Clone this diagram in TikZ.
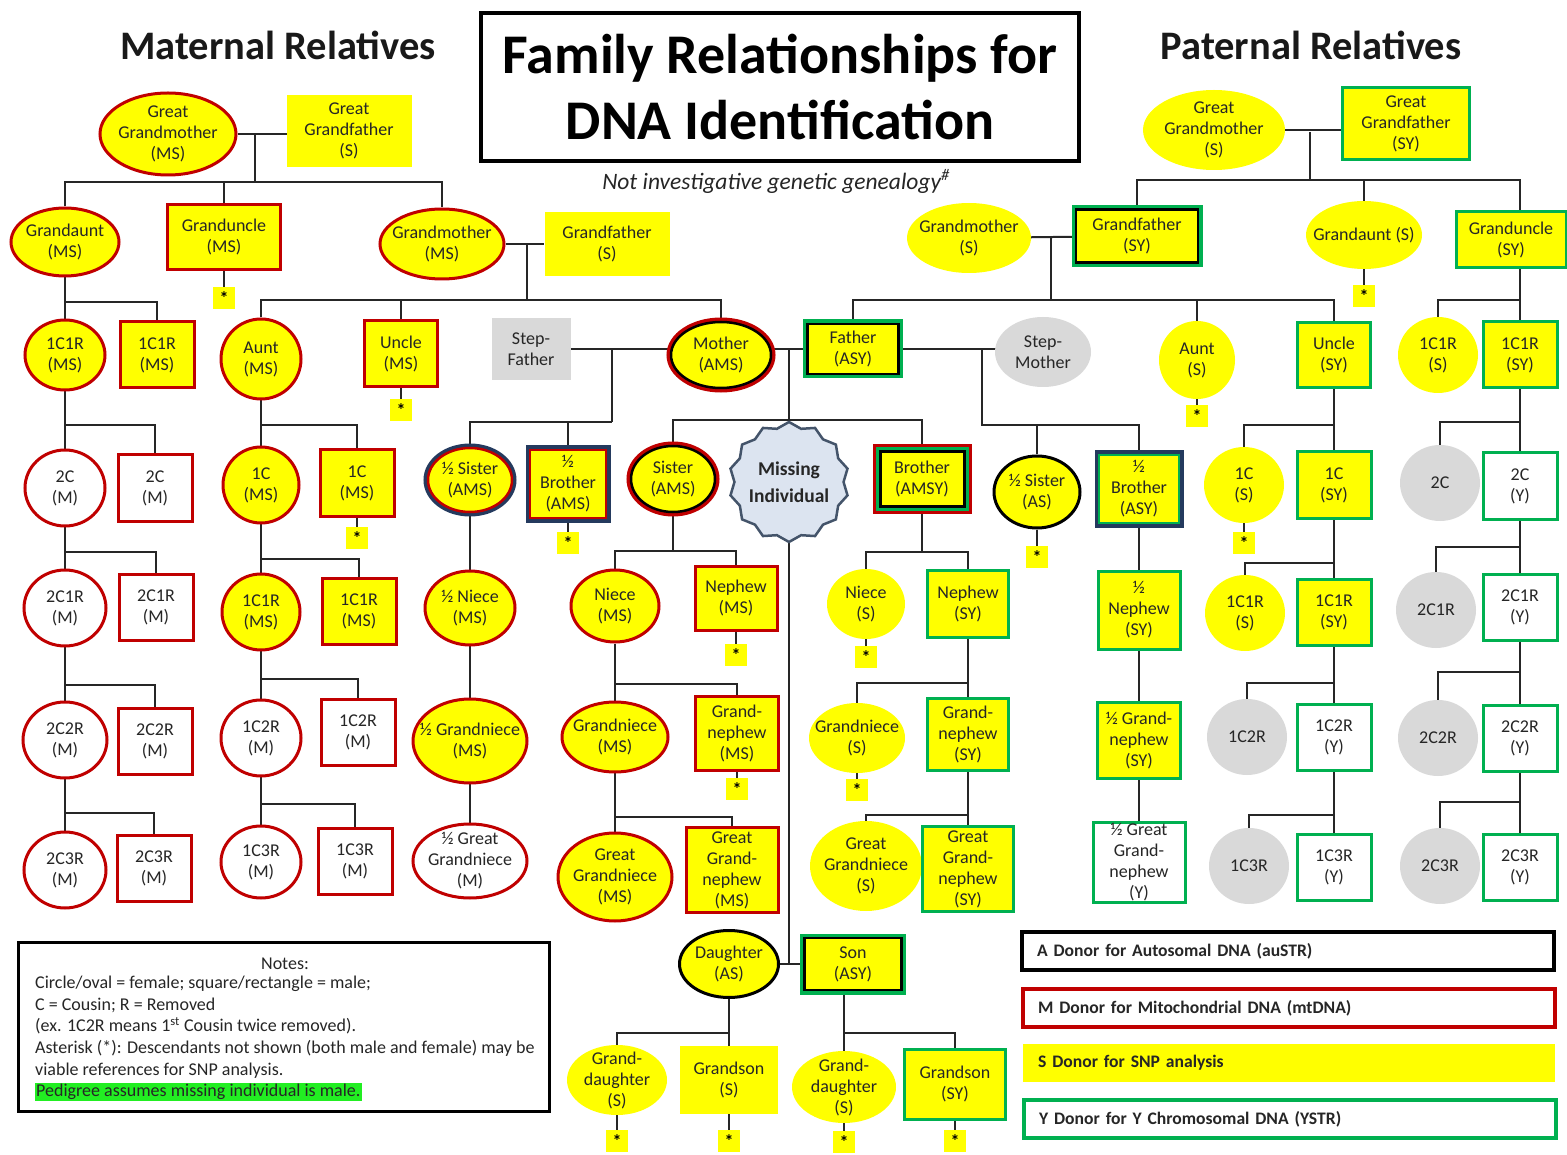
\documentclass[tikz,border=0pt]{standalone}
\usepackage{fontspec}
\setmainfont{Carlito}
\usetikzlibrary{shapes.geometric,backgrounds}

\definecolor{myel}{HTML}{FFFF00}
\definecolor{mred}{HTML}{C00000}
\definecolor{mgreen}{HTML}{00B050}
\definecolor{mgray}{HTML}{D9D9D9}
\definecolor{mnavy}{HTML}{243A5E}
\definecolor{mslate}{HTML}{44546A}
\definecolor{mblue}{HTML}{DCE4F0}
\definecolor{hlgreen}{HTML}{22EE22}

\newcommand\lab{\fontsize{18}{21}\selectfont}

\begin{document}
\begin{tikzpicture}[
  x=1pt, y=-1pt,
  fem/.style={ellipse, inner sep=-20pt, minimum width=80pt, minimum height=76pt,
              align=center, font=\lab, text=black!85},
  mal/.style={rectangle, inner sep=-10pt, minimum width=74pt, minimum height=66pt,
              align=center, font=\lab, text=black!85},
  sz/.style 2 args={minimum width=#1pt, minimum height=#2pt},
  dMS/.style={fill=myel, draw=mred, line width=3pt},
  dM/.style={fill=white, draw=mred, line width=3pt},
  dS/.style={fill=myel},
  dSY/.style={fill=myel, draw=mgreen, line width=3pt},
  dY/.style={fill=white, draw=mgreen, line width=3pt},
  dnone/.style={fill=mgray},
  dAS/.style={fill=myel, draw=black, line width=3pt},
  dAMS/.style={fill=myel, preaction={draw=mred, line width=9pt}, draw=black, line width=2.5pt},
  dhAMS/.style={fill=myel, preaction={draw=mnavy, line width=9pt}, draw=mred, line width=2.5pt},
  dASY/.style={fill=myel, preaction={draw=mgreen, line width=9pt}, draw=black, line width=2.5pt},
  dhASY/.style={fill=myel, preaction={draw=mnavy, line width=9pt}, draw=mgreen, line width=2.5pt},
  dAMSY/.style={fill=myel, preaction={draw=mred, line width=15pt},
                preaction={draw=mgreen, line width=9pt}, draw=black, line width=3pt},
  ast/.style={fill=myel, minimum size=22pt, inner sep=0pt, font=\lab\bfseries},
  link/.style={draw=black!85, line width=2pt},
  head/.style={font=\fontsize{40.5}{48}\selectfont\bfseries, text=black!90},
  titlebox/.style={draw, line width=4pt, minimum width=598pt, minimum height=148pt,
                   align=center, font=\fontsize{56}{66}\selectfont\bfseries},
  legbox/.style={minimum width=532pt, minimum height=38pt, line width=3.5pt, text width=502pt,
                 align=left, inner sep=0pt, font=\fontsize{17.6}{20}\selectfont\bfseries, text=black!85},
  notefont/.style={font=\fontsize{18}{21.6}\selectfont, text=black!85},
]
\useasboundingbox (0,0) rectangle (1567,1155);

% ---------- headings ----------
\node[head] (mathead) at (278,45) {Maternal Relatives};
\node[titlebox] (title) at (780,87) {Family Relationships for\\DNA Identification};
\node[font=\fontsize{23.5}{26}\selectfont\itshape, text=black!85] (subtitle) at (776,181)
  {Not investigative genetic genealogy\textsuperscript{\#}};
\node[head] (pathead) at (1311,45) {Paternal Relatives};

% ---------- maternal grandparents ----------
\node[fem, dMS, sz={136}{82}] (mggm) at (168,134) {Great\\Grandmother\\(MS)};
\node[mal, dS, sz={125}{72}] (mggf) at (349,131) {Great\\Grandfather\\(S)};
\node[fem, dMS, sz={108}{68}] (mgaunt) at (65,242) {Grandaunt\\(MS)};
\node[mal, dMS, sz={113}{65}] (mguncle) at (224,237) {Granduncle\\(MS)};
\node[ast] (mguncleX) at (224,298) {\raisebox{-5pt}{*}};
\node[fem, dMS, sz={124}{70}] (mgm) at (442,244) {Grandmother\\(MS)};
\node[mal, dS, sz={125}{64}] (mgf) at (607,244) {Grandfather\\(S)};

% ---------- grandaunt line ----------
\node[fem, dMS, sz={80}{70}] (mgaF1) at (65,355) {1C1R\\(MS)};
\node[mal, dMS] (mgaM1) at (157,355) {1C1R\\(MS)};
\node[fem, dM] (mgaF2) at (65,488) {2C\\(M)};
\node[mal, dM] (mgaM2) at (155,488) {2C\\(M)};
\node[fem, dM, sz={82}{76}] (mgaF3) at (65,608) {2C1R\\(M)};
\node[mal, dM] (mgaM3) at (156,607) {2C1R\\(M)};
\node[fem, dM, sz={84}{76}] (mgaF4) at (65,740) {2C2R\\(M)};
\node[mal, dM] (mgaM4) at (155,741) {2C2R\\(M)};
\node[fem, dM, sz={82}{76}] (mgaF5) at (65,870) {2C3R\\(M)};
\node[mal, dM] (mgaM5) at (154,868) {2C3R\\(M)};

% ---------- aunt / uncle line ----------
\node[fem, dMS, sz={80}{80}] (maunt) at (261,359) {Aunt\\(MS)};
\node[mal, dMS, sz={73}{66}] (muncle) at (401,354) {Uncle\\(MS)};
\node[ast] (muncleX) at (401,410) {\raisebox{-5pt}{*}};
\node[fem, dMS, sz={76}{76}] (mauF1) at (261,485) {1C\\(MS)};
\node[mal, dMS] (mauM1) at (357,483) {1C\\(MS)};
\node[ast] (mauM1X) at (357,538) {\raisebox{-5pt}{*}};
\node[fem, dMS, sz={78}{76}] (mauF2) at (261,612) {1C1R\\(MS)};
\node[mal, dMS] (mauM2) at (359,611) {1C1R\\(MS)};
\node[fem, dM] (mauF3) at (261,738) {1C2R\\(M)};
\node[mal, dM] (mauM3) at (358,732) {1C2R\\(M)};
\node[fem, dM, sz={80}{72}] (mauF4) at (261,862) {1C3R\\(M)};
\node[mal, dM] (mauM4) at (355,861) {1C3R\\(M)};

% ---------- parents ----------
\node[mal, dnone, sz={79}{62}] (stepf) at (531,349) {Step-\\Father};
\node[fem, dAMS, sz={100}{66}] (mother) at (721,355) {Mother\\(AMS)};
\node[mal, dASY, sz={91}{50}] (father) at (853,349) {Father\\(ASY)};
\node[fem, dnone, sz={96}{70}] (stepm) at (1043,352) {Step-\\Mother};

% ---------- maternal half siblings ----------
\node[fem, dhAMS, sz={84}{64}] (mhsis) at (470,480) {½ Sister\\(AMS)};
\node[mal, dhAMS, sz={76}{68}] (mhbro) at (568,484) {½\\Brother\\(AMS)};
\node[ast] (mhbroX) at (568,543) {\raisebox{-5pt}{*}};
\node[fem, dMS, sz={90}{74}] (mhniece) at (470,608) {½ Niece\\(MS)};
\node[fem, dMS, sz={114}{84}] (mhgniece) at (470,741) {½ Grandniece\\(MS)};
\node[fem, dM, sz={114}{74}] (mhggniece) at (470,861) {½ Great\\Grandniece\\(M)};

% ---------- siblings ----------
\node[fem, dAMS, sz={84}{66}] (sister) at (673,479) {Sister\\(AMS)};
\node[star, star points=14, star point ratio=1.1, draw=mslate, fill=mblue, line width=2.5pt,
      minimum size=120pt, inner sep=-30pt, align=center,
      font=\fontsize{19.5}{27}\selectfont\bfseries, text=black!85] (missing) at (789,482) {Missing\\Individual};
\node[mal, dAMSY, sz={84}{54}] (brother) at (922,479) {Brother\\(AMSY)};

\node[fem, dMS, sz={88}{72}] (sniece) at (615,606) {Niece\\(MS)};
\node[mal, dMS, sz={82}{64}] (snephew) at (736,598) {Nephew\\(MS)};
\node[ast] (snephewX) at (736,655) {\raisebox{-5pt}{*}};
\node[fem, dMS, sz={106}{70}] (sgniece) at (615,737) {Grandniece\\(MS)};
\node[mal, dMS, sz={83}{74}] (sgnephew) at (737,733) {Grand-\\nephew\\(MS)};
\node[ast] (sgnephewX) at (737,789) {\raisebox{-5pt}{*}};
\node[fem, dMS, sz={114}{88}] (sggniece) at (615,877) {Great\\Grandniece\\(MS)};
\node[mal, dMS, sz={92}{85}] (sggnephew) at (732,870) {Great\\Grand-\\nephew\\(MS)};

\node[fem, dS, sz={78}{70}] (bniece) at (866,604) {Niece\\(S)};
\node[ast] (bnieceX) at (866,657) {\raisebox{-5pt}{*}};
\node[mal, dSY, sz={81}{67}] (bnephew) at (968,604) {Nephew\\(SY)};
\node[fem, dS, sz={96}{70}] (bgniece) at (857,738) {Grandniece\\(S)};
\node[ast] (bgnieceX) at (857,790) {\raisebox{-5pt}{*}};
\node[mal, dSY, sz={81}{72}] (bgnephew) at (968,734) {Grand-\\nephew\\(SY)};
\node[fem, dS, sz={112}{90}] (bggniece) at (866,866) {Great\\Grandniece\\(S)};
\node[mal, dSY, sz={91}{85}] (bggnephew) at (968,869) {Great\\Grand-\\nephew\\(SY)};

% ---------- paternal half siblings ----------
\node[fem, dAS, sz={86}{72}] (phsis) at (1037,492) {½ Sister\\(AS)};
\node[ast] (phsisX) at (1037,557) {\raisebox{-5pt}{*}};
\node[mal, dhASY, sz={80}{68}] (phbro) at (1139,489) {½\\Brother\\(ASY)};
\node[mal, dSY, sz={82}{78}] (phnephew) at (1139,610) {½\\Nephew\\(SY)};
\node[mal, dSY, sz={83}{76}] (phgnephew) at (1139,740) {½ Grand-\\nephew\\(SY)};
\node[mal, dY, sz={92}{80}] (phggnephew) at (1139,862) {½ Great\\Grand-\\nephew\\(Y)};

% ---------- paternal grandparents ----------
\node[fem, dS, sz={142}{80}] (pggm) at (1214,130) {Great\\Grandmother\\(S)};
\node[mal, dSY, sz={127}{72}] (pggf) at (1406,124) {Great\\Grandfather\\(SY)};
\node[fem, dS, sz={124}{70}] (pgm) at (969,238) {Grandmother\\(S)};
\node[mal, dASY, sz={122}{53}] (pgf) at (1137,236) {Grandfather\\(SY)};
\node[fem, dS, sz={116}{68}] (pgaunt) at (1364,235) {Grandaunt (S)};
\node[ast] (pgauntX) at (1364,296) {\raisebox{-5pt}{*}};
\node[mal, dSY, sz={110}{56}] (pguncle) at (1511,240) {Granduncle\\(SY)};

% ---------- paternal aunt / uncle line ----------
\node[fem, dS, sz={76}{78}] (paunt) at (1197,360) {Aunt\\(S)};
\node[ast] (pauntX) at (1197,416) {\raisebox{-5pt}{*}};
\node[mal, dSY, sz={73}{65}] (puncle) at (1334,355) {Uncle\\(SY)};
\node[fem, dS] (puF1) at (1244,485) {1C\\(S)};
\node[ast] (puF1X) at (1244,543) {\raisebox{-5pt}{*}};
\node[mal, dSY] (puM1) at (1334,485) {1C\\(SY)};
\node[fem, dS] (puF2) at (1245,613) {1C1R\\(S)};
\node[mal, dSY] (puM2) at (1334,612) {1C1R\\(SY)};
\node[fem, dnone] (puF3) at (1247,737) {1C2R};
\node[mal, dY] (puM3) at (1334,737) {1C2R\\(Y)};
\node[fem, dnone] (puF4) at (1249,866) {1C3R};
\node[mal, dY] (puM4) at (1334,867) {1C3R\\(Y)};

% ---------- paternal granduncle line ----------
\node[fem, dS] (pguF1) at (1438,355) {1C1R\\(S)};
\node[mal, dSY] (pguM1) at (1520,355) {1C1R\\(SY)};
\node[fem, dnone] (pguF2) at (1440,483) {2C};
\node[mal, dY] (pguM2) at (1520,486) {2C\\(Y)};
\node[fem, dnone] (pguF3) at (1436,610) {2C1R};
\node[mal, dY] (pguM3) at (1520,607) {2C1R\\(Y)};
\node[fem, dnone] (pguF4) at (1438,738) {2C2R};
\node[mal, dY] (pguM4) at (1520,738) {2C2R\\(Y)};
\node[fem, dnone] (pguF5) at (1440,866) {2C3R};
\node[mal, dY] (pguM5) at (1520,867) {2C3R\\(Y)};

% ---------- children ----------
\node[fem, dAS, sz={99}{67}] (daughter) at (729,964) {Daughter\\(AS)};
\node[mal, dASY, sz={97}{52}] (son) at (853,964) {Son\\(ASY)};
\node[fem, dS, sz={100}{70}] (dgd) at (617,1080) {Grand-\\daughter\\(S)};
\node[ast] (dgdX) at (617,1141) {\raisebox{-5pt}{*}};
\node[mal, dS, sz={98}{68}] (dgs) at (729,1080) {Grandson\\(S)};
\node[ast] (dgsX) at (729,1141) {\raisebox{-5pt}{*}};
\node[fem, dS, sz={104}{72}] (sgd) at (844,1087) {Grand-\\daughter\\(S)};
\node[ast] (sgdX) at (844,1142) {\raisebox{-5pt}{*}};
\node[mal, dSY, sz={101}{70}] (sgs) at (955,1084) {Grandson\\(SY)};
\node[ast] (sgsX) at (955,1141) {\raisebox{-5pt}{*}};

% ---------- notes ----------
\node[draw, line width=2.5pt, minimum width=531pt, minimum height=169pt] (notes) at (284,1027) {};
\node[notefont] (notestitle) at (285,964) {Notes:};
\node[notefont, anchor=north west, align=left, inner sep=0pt] (notesbody) at (35,976)
  {Circle/oval = female; square/rectangle = male;\\
   C = Cousin; R = Removed\\
   (ex. 1C2R means 1\textsuperscript{st} Cousin twice removed).\\
   Asterisk (*): Descendants not shown (both male and female) may be\\
   viable references for SNP analysis.\\
   {\setlength\fboxsep{1pt}\colorbox{hlgreen}{Pedigree assumes missing individual is male.}}};

% ---------- legend ----------
\node[legbox, draw=black] (legA) at (1288,951) {A\hspace{6pt}Donor for Autosomal DNA (auSTR)};
\node[legbox, draw=mred] (legM) at (1289,1008) {M\hspace{6pt}Donor for Mitochondrial DNA (mtDNA)};
\node[legbox, fill=myel] (legS) at (1289,1063) {S\hspace{6pt}Donor for SNP analysis};
\node[legbox, draw=mgreen] (legY) at (1290,1119) {Y\hspace{6pt}Donor for Y Chromosomal DNA (YSTR)};

% ---------- connectors ----------
\begin{scope}[on background layer]
\fill[white] (0,0) rectangle (1567,1155);

\coordinate (mggj) at (255,134);
\coordinate (mggbar) at (255,182);
\draw[link] (mggm) -- (mggm -| mggf);
\draw[link] (mggj) -- (mggbar);
\draw[link] (mgaunt) |- (mggbar) -| (mgm);
\draw[link] (mguncle) -- (mguncle |- mggbar);
\draw[link] (mguncle) -- (mguncleX);

\coordinate (mgj) at (527,244);
\coordinate (mgbar) at (527,300);
\draw[link] (mgm) -- (mgf);
\draw[link] (mgj) -- (mgbar);
\draw[link] (maunt) |- (mgbar) -| (mother);
\draw[link] (muncle) -- (muncle |- mgbar);
\draw[link] (muncle) -- (muncleX);

\draw[link] (mgaunt) -- (mgaF5);
\coordinate (mga1) at (65,302);
\coordinate (mga2) at (65,425);
\coordinate (mga3) at (65,552);
\coordinate (mga4) at (65,685);
\coordinate (mga5) at (65,813);
\draw[link] (mga1) -| (mgaM1);
\draw[link] (mga2) -| (mgaM2);
\draw[link] (mga3) -| (mgaM3);
\draw[link] (mga4) -| (mgaM4);
\draw[link] (mga5) -| (mgaM5);

\draw[link] (maunt) -- (mauF4);
\coordinate (mau1) at (261,425);
\coordinate (mau2) at (261,559);
\coordinate (mau3) at (261,679);
\coordinate (mau4) at (261,804);
\draw[link] (mau1) -| (mauM1);
\draw[link] (mau2) -| (mauM2);
\draw[link] (mau3) -| (mauM3);
\draw[link] (mau4) -| (mauM4);
\draw[link] (mauM1) -- (mauM1X);

\coordinate (sfj) at (612,349);
\coordinate (sfbar) at (612,422);
\draw[link] (stepf) -- (stepf -| mother);
\draw[link] (sfj) -- (sfbar);
\draw[link] (mhsis) |- (sfbar);
\draw[link] (mhbro) -- (mhbro |- sfbar);
\draw[link] (mhbro) -- (mhbroX);
\draw[link] (mhsis) -- (mhggniece);

\coordinate (pj) at (789,349);
\coordinate (pbar) at (789,420);
\draw[link] (father) -- (father -| mother);
\draw[link] (pj) -- (missing);
\draw[link] (sister) |- (pbar) -| (brother);

\coordinate (smj) at (982,349);
\coordinate (smbar) at (982,425);
\draw[link] (father) -- (father -| stepm);
\draw[link] (smj) -- (smbar) -| (phbro);
\draw[link] (phsis) -- (phsis |- smbar);
\draw[link] (phsis) -- (phsisX);
\draw[link] (phbro) -- (phggnephew);

\coordinate (sbar) at (673,551);
\coordinate (sj2) at (615,684);
\coordinate (sj3) at (615,817);
\draw[link] (sister) -- (sbar);
\draw[link] (sniece) |- (sbar) -| (snephew);
\draw[link] (sniece) -- (sggniece);
\draw[link] (sj2) -| (sgnephew);
\draw[link] (sj3) -| (sggnephew);
\draw[link] (snephew) -- (snephewX);
\draw[link] (sgnephew) -- (sgnephewX);

\coordinate (bbar) at (922,552);
\coordinate (bj2) at (968,683);
\coordinate (bj3) at (968,815);
\draw[link] (brother) -- (bbar);
\draw[link] (bniece) |- (bbar) -| (bnephew);
\draw[link] (bnephew) -- (bggnephew);
\draw[link] (bj2) -| (bgniece);
\draw[link] (bj3) -| (bggniece);
\draw[link] (bniece) -- (bnieceX);
\draw[link] (bgniece) -- (bgnieceX);

\draw[link] (missing) -- (missing |- son);
\draw[link] (daughter) -- (son);
\coordinate (dbar) at (729,1033);
\coordinate (snbar) at (844,1033);
\draw[link] (daughter) -- (dgs);
\draw[link] (dbar) -| (dgd);
\draw[link] (son -| sgd) -- (sgd);
\draw[link] (snbar) -| (sgs);
\draw[link] (dgd) -- (dgdX);
\draw[link] (dgs) -- (dgsX);
\draw[link] (sgd) -- (sgdX);
\draw[link] (sgs) -- (sgsX);

\coordinate (pggj) at (1310,132);
\coordinate (pggbar) at (1310,180);
\draw[link] (pggm) -- (pggm -| pggf);
\draw[link] (pggj) -- (pggbar);
\draw[link] (pgf) |- (pggbar) -| (pguM1);
\draw[link] (pgaunt) -- (pgaunt |- pggbar);
\draw[link] (pgaunt) -- (pgauntX);

\coordinate (pgj) at (1051,236);
\coordinate (pgbar) at (1051,300);
\draw[link] (pgm) -- (pgf);
\draw[link] (pgj) -- (pgbar);
\draw[link] (father) |- (pgbar) -| (puncle);
\draw[link] (paunt) -- (paunt |- pgbar);
\draw[link] (paunt) -- (pauntX);

\draw[link] (puncle) -- (puM4);
\coordinate (pu1) at (1334,425);
\coordinate (pu2) at (1334,563);
\coordinate (pu3) at (1334,683);
\coordinate (pu4) at (1334,815);
\draw[link] (pu1) -| (puF1);
\draw[link] (pu2) -| (puF2);
\draw[link] (pu3) -| (puF3);
\draw[link] (pu4) -| (puF4);
\draw[link] (puF1) -- (puF1X);

\draw[link] (pguM1) -- (pguM5);
\coordinate (pgu1) at (1520,300);
\coordinate (pgu2) at (1520,422);
\coordinate (pgu3) at (1520,547);
\coordinate (pgu4) at (1520,672);
\coordinate (pgu5) at (1520,802);
\draw[link] (pgu1) -| (pguF1);
\draw[link] (pgu2) -| (pguF2);
\draw[link] (pgu3) -| (pguF3);
\draw[link] (pgu4) -| (pguF4);
\draw[link] (pgu5) -| (pguF5);
\end{scope}

\end{tikzpicture}
\end{document}
